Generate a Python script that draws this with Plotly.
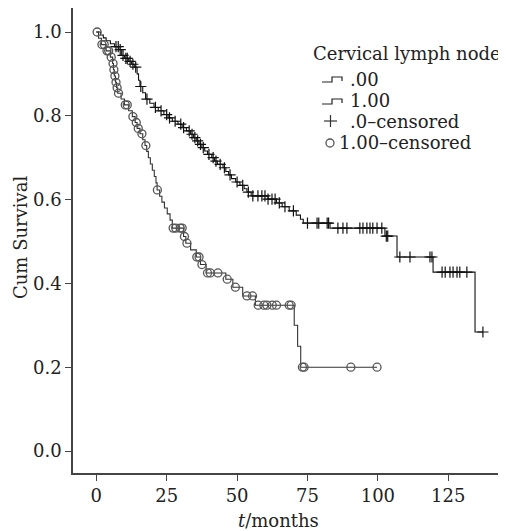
import numpy as np
import plotly.graph_objects as go

# Kaplan-Meier steps (months, cumulative survival)
g0_event_t = [1.5, 2.5, 3.5, 5.0, 6.5, 8.0, 9.0, 10.0, 11.5, 12.5, 13.5, 14.5, 15.0,
              15.5, 16.5, 17.5, 19.0, 20.5, 22.0, 24.0, 25.5, 27.0, 29.0, 30.5, 32.0,
              33.5, 34.5, 35.5, 36.5, 37.5, 38.5, 39.5, 41.0, 42.0, 43.0, 45.0, 46.0,
              47.0, 48.0, 49.5, 51.0, 52.5, 53.5, 55.0, 61.0, 64.0, 66.0, 68.5, 71.0,
              72.5, 73.5, 83.0, 102.5, 106.8, 119.6, 134.5]
g0_event_s = [0.993, 0.986, 0.979, 0.972, 0.965, 0.958, 0.944, 0.937, 0.930, 0.923,
              0.916, 0.900, 0.885, 0.870, 0.855, 0.840, 0.830, 0.820, 0.812, 0.803,
              0.795, 0.787, 0.780, 0.772, 0.764, 0.756, 0.748, 0.740, 0.732, 0.724,
              0.716, 0.708, 0.700, 0.692, 0.684, 0.676, 0.667, 0.659, 0.650, 0.642,
              0.634, 0.626, 0.618, 0.609, 0.601, 0.592, 0.583, 0.573, 0.563, 0.553,
              0.544, 0.532, 0.513, 0.463, 0.427, 0.284]
g0_cens_t = [7.0, 7.8, 8.5, 9.5, 10.5, 11.0, 12.0, 13.0, 14.0, 15.8, 18.0, 21.0, 23.0,
             25.0, 26.0, 28.0, 30.0, 31.0, 33.0, 34.0, 35.0, 36.0, 37.0, 38.0, 40.0,
             41.5, 42.5, 44.0, 45.5, 47.5, 50.0, 52.0, 54.0, 55.6, 57.4, 58.8, 59.9,
             61.0, 62.4, 63.5, 65.0, 67.0, 70.0, 75.0, 78.4, 79.0, 82.0, 82.5, 85.8,
             87.6, 89.0, 93.6, 94.7, 96.1, 97.2, 98.2, 99.7, 101.4, 103.0, 103.5,
             107.8, 111.4, 118.5, 119.2, 122.8, 123.9, 125.6, 126.7, 128.1, 129.1,
             131.6, 137.3]

g1_event_t = [0.8, 1.8, 3.5, 5.0, 5.8, 6.1, 6.4, 6.8, 7.2, 7.6, 8.8, 10.0, 11.5, 12.8,
              13.8, 14.5, 15.5, 16.5, 17.3, 17.9, 18.5, 19.2, 19.9, 20.6, 21.2, 21.6,
              22.5, 23.3, 24.2, 25.2, 26.2, 27.0, 31.0, 31.8, 33.5, 35.5, 37.0, 39.0,
              46.0, 48.5, 52.0, 56.5, 70.3, 71.5, 72.6]
g1_event_s = [0.985, 0.970, 0.955, 0.940, 0.925, 0.910, 0.895, 0.880, 0.867, 0.854,
              0.840, 0.826, 0.812, 0.798, 0.784, 0.770, 0.757, 0.743, 0.729, 0.715,
              0.700, 0.685, 0.670, 0.655, 0.640, 0.623, 0.608, 0.594, 0.580, 0.566,
              0.551, 0.532, 0.512, 0.496, 0.480, 0.463, 0.445, 0.425, 0.410, 0.391,
              0.370, 0.348, 0.300, 0.250, 0.200]
g1_cens_t = [0.3, 2.0, 2.8, 3.8, 4.4, 5.3, 5.95, 6.25, 6.6, 7.0, 7.4, 7.9, 10.3, 11.0,
             13.0, 14.2, 14.9, 16.2, 17.6, 21.7, 27.3, 28.2, 29.8, 30.5, 31.3, 32.2,
             35.7, 36.5, 37.5, 39.5, 40.5, 43.2, 46.5, 49.4, 53.5, 55.5, 57.5, 59.5,
             60.6, 62.5, 64.0, 68.5, 69.2, 73.2, 73.8, 90.4, 99.7]

legend_title = "Cervical lymph node"
group_names = [".00", "1.00"]
censored_names = [".0–censored", "1.00–censored"]
x_ticks = [0, 25, 50, 75, 100, 125]
y_ticks = [0.0, 0.2, 0.4, 0.6, 0.8, 1.0]

FONT = "DejaVu Serif"
# page body has an 8px margin, so the figure is a bit smaller than the window
W, H = 498, 523
ML, MT, MB = 65, 0, 58
PW, PH = W - ML, H - MT - MB


def px(x):
    # window pixel -> paper x
    return (x - 8 - ML) / PW


def py(y):
    # window pixel -> paper y
    return 1 - (y - 8 - MT) / PH


def step_xy(ev_t, ev_s, last_t):
    xs = [0.0] + list(ev_t) + [last_t]
    ys = [1.0] + list(ev_s) + [ev_s[-1]]
    return xs, ys


def surv_at(ev_t, ev_s, t):
    idx = np.searchsorted(np.asarray(ev_t), np.asarray(t), side="right")
    s = np.concatenate([[1.0], ev_s])
    return s[idx]


fig = go.Figure()

x0, y0 = step_xy(g0_event_t, g0_event_s, g0_cens_t[-1])
x1, y1 = step_xy(g1_event_t, g1_event_s, g1_cens_t[-1])

fig.add_trace(go.Scatter(x=x0, y=y0, mode="lines", line_shape="hv",
                         line=dict(color="#111", width=1.1), name=group_names[0]))
fig.add_trace(go.Scatter(x=x1, y=y1, mode="lines", line_shape="hv",
                         line=dict(color="#333", width=1.1), name=group_names[1]))
fig.add_trace(go.Scatter(x=g0_cens_t, y=surv_at(g0_event_t, g0_event_s, g0_cens_t),
                         mode="markers", name=censored_names[0],
                         marker=dict(symbol="cross-thin-open", size=8, color="#111",
                                     line=dict(color="#111", width=1.2))))
fig.add_trace(go.Scatter(x=g1_cens_t, y=surv_at(g1_event_t, g1_event_s, g1_cens_t),
                         mode="markers", name=censored_names[1],
                         marker=dict(symbol="circle-open", size=8, color="#555",
                                     line=dict(color="#555", width=1.3))))

fig.update_layout(
    width=W, height=H,
    margin=dict(l=ML, r=0, t=MT, b=MB),
    plot_bgcolor="white", paper_bgcolor="white",
    font=dict(family=FONT, size=18, color="#222"),
    showlegend=False,
)
fig.update_xaxes(range=[-8.27, 145.5], tickvals=x_ticks, showgrid=False, zeroline=False,
                 showline=True, linecolor="#444", linewidth=1.5,
                 ticks="outside", ticklen=6, tickcolor="#444", tickwidth=1.2)
fig.update_yaxes(range=[-0.0525, 1.0573], tickvals=y_ticks, tickformat=".1f",
                 showgrid=False, zeroline=False,
                 showline=True, linecolor="#444", linewidth=1.5,
                 ticks="outside", ticklen=6, tickcolor="#444", tickwidth=1.2)

fig.add_annotation(text="<i>t</i>/months", xref="paper", yref="paper",
                   x=px(278), y=py(520), xanchor="center", yanchor="middle",
                   showarrow=False, font=dict(family=FONT, size=18))
fig.add_annotation(text="Cum Survival", xref="paper", yref="paper",
                   x=px(21), y=py(237), xanchor="center", yanchor="middle",
                   textangle=-90, showarrow=False, font=dict(family=FONT, size=18))

# hand-drawn legend, laid out like the SPSS one
fig.add_annotation(text=legend_title, xref="paper", yref="paper",
                   x=px(311), y=py(54), xanchor="left", yanchor="middle",
                   showarrow=False, font=dict(family=FONT, size=18))
for name, yc in zip(group_names, [79, 101]):
    path = "M {} {} L {} {} L {} {} L {} {} L {} {}".format(
        px(322), py(yc + 3), px(332), py(yc + 3), px(332), py(yc - 2),
        px(342), py(yc - 2), px(342), py(yc + 2))
    fig.add_shape(type="path", path=path, xref="paper", yref="paper",
                  line=dict(color="#222", width=1.2))
    fig.add_annotation(text=name, xref="paper", yref="paper",
                       x=px(348), y=py(yc), xanchor="left", yanchor="middle",
                       showarrow=False, font=dict(family=FONT, size=18))
# censored symbols
yc = 122
fig.add_shape(type="line", xref="paper", yref="paper",
              x0=px(324), x1=px(337), y0=py(yc - 1), y1=py(yc - 1),
              line=dict(color="#333", width=1.2))
fig.add_shape(type="line", xref="paper", yref="paper",
              x0=px(330.5), x1=px(330.5), y0=py(yc - 7), y1=py(yc + 5),
              line=dict(color="#333", width=1.2))
fig.add_annotation(text=censored_names[0], xref="paper", yref="paper",
                   x=px(348), y=py(yc), xanchor="left", yanchor="middle",
                   showarrow=False, font=dict(family=FONT, size=18))
yc = 143
fig.add_shape(type="circle", xref="paper", yref="paper",
              x0=px(326), x1=px(334), y0=py(yc - 4), y1=py(yc + 4),
              line=dict(color="#555", width=1.3))
fig.add_annotation(text=censored_names[1], xref="paper", yref="paper",
                   x=px(337), y=py(yc), xanchor="left", yanchor="middle",
                   showarrow=False, font=dict(family=FONT, size=18))

fig.write_html("out.html")
